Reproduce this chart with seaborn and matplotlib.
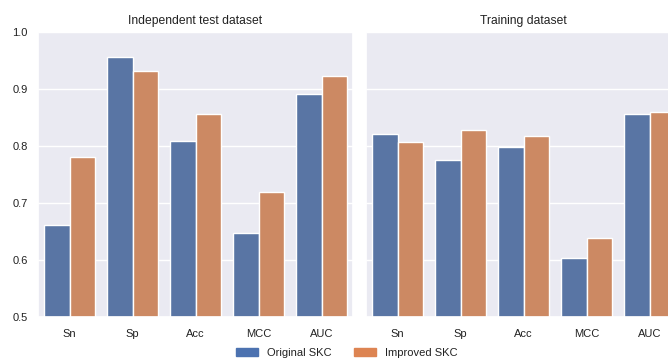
import numpy as np
import pandas as pd
import matplotlib
matplotlib.use("Agg")
import matplotlib.pyplot as plt
import seaborn as sns

metrics = ["Sn", "Sp", "Acc", "MCC", "AUC"]
models = ["Original SKC", "Improved SKC"]
test_original = [0.661, 0.956, 0.808, 0.647, 0.891]
test_improved = [0.781, 0.931, 0.856, 0.719, 0.923]
train_original = [0.821, 0.775, 0.798, 0.603, 0.856]
train_improved = [0.807, 0.828, 0.818, 0.638, 0.859]
panel_titles = ["Independent test dataset", "Training dataset"]
yticks = [0.5, 0.6, 0.7, 0.8, 0.9, 1.0]

def long_df(orig, imp):
    return pd.DataFrame({
        "metric": metrics * 2,
        "model": [models[0]] * len(metrics) + [models[1]] * len(metrics),
        "value": list(orig) + list(imp),
    })

sns.set_theme(style="darkgrid", font_scale=0.725)
plt.rcParams['font.family'] = ['Liberation Sans', 'DejaVu Sans']
plt.rcParams['text.color'] = '#222222'
plt.rcParams['xtick.color'] = '#222222'
plt.rcParams['ytick.color'] = '#222222'

W, H = 668, 360
fig = plt.figure(figsize=(W / 100, H / 100), dpi=100)
ax1 = fig.add_axes([38 / W, 1 - 317 / H, 315 / W, 285 / H])
ax2 = fig.add_axes([366 / W, 1 - 317 / H, 315 / W, 285 / H], sharey=ax1)

for ax, df, title in [(ax1, long_df(test_original, test_improved), panel_titles[0]),
                      (ax2, long_df(train_original, train_improved), panel_titles[1])]:
    sns.barplot(data=df, x="metric", y="value", hue="model", ax=ax,
                order=metrics, hue_order=models, legend=False)
    ax.set_title(title, pad=5.5)
    ax.set_xlabel("")
    ax.set_ylabel("")
    ax.set_ylim(0.5, 1.0)
    ax.set_yticks(yticks)
    ax.tick_params(axis="x", pad=2.8)
    ax.tick_params(axis="y", pad=1.5)

ax2.tick_params(axis="y", labelleft=False)
ax1.set_yticklabels([f"{t:.1f}" for t in yticks])

pal = sns.color_palette()
handles = [plt.Rectangle((0, 0), 1, 1, color=pal[i]) for i in range(2)]
fig.legend(handles, models, loc="center", ncol=2, frameon=False,
           bbox_to_anchor=(346.5 / W, 1 - 352.5 / H))

fig.savefig("out.png", dpi=100)
